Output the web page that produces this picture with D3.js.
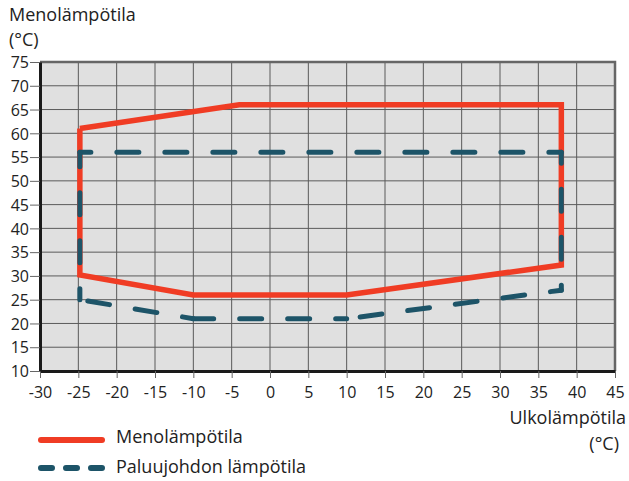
<!DOCTYPE html>
<html><head><meta charset="utf-8">
<script src="https://cdn.jsdelivr.net/npm/d3@7"></script>
<style>body{margin:0;background:#fff}svg{display:block;font-family:"Open Sans",sans-serif}</style>
</head><body>
<script>
const xTicks = [-30,-25,-20,-15,-10,-5,0,5,10,15,20,25,30,35,40,45];
const yTicks = [10,15,20,25,30,35,40,45,50,55,60,65,70,75];
const supplyX = [-24.8, -4, 38, 38, 10, -10, -24.8, -24.8];
const supplyY = [61, 66, 66, 32.3, 26, 26, 30.2, 61];
const returnX = [-24.8, 38, 38, 10, -10, -24.8, -24.8];
const returnY = [56, 56, 27, 21, 21, 25, 56];
const yTitle = ["Menolämpötila", "(°C)"];
const xTitle = ["Ulkolämpötila", "(°C)"];
const legendLabels = ["Menolämpötila", "Paluujohdon lämpötila"];

const W = 629, H = 481;
const svg = d3.select("body").append("svg").attr("width", W).attr("height", H);
const x = d3.scaleLinear().domain([-30, 45]).range([40, 615]);
const y = d3.scaleLinear().domain([10, 75]).range([371, 62]);
const red = "#f03c24", blue = "#1d5468";

svg.append("rect").attr("x", x(-30)).attr("y", y(75)).attr("width", x(45)-x(-30)).attr("height", y(10)-y(75)).attr("fill", "#e0e0e0");
// grid
svg.append("g").selectAll("line").data(xTicks.filter(d => d > -30 && d < 45)).join("line")
  .attr("x1", d => x(d)).attr("x2", d => x(d)).attr("y1", y(10)).attr("y2", y(75))
  .attr("stroke", "#5a5a5a").attr("stroke-width", 1);
svg.append("g").selectAll("line").data(yTicks.filter(d => d > 10 && d < 75)).join("line")
  .attr("y1", d => y(d)).attr("y2", d => y(d)).attr("x1", x(-30)).attr("x2", x(45))
  .attr("stroke", "#5a5a5a").attr("stroke-width", 1);
// top / right border
svg.append("path").attr("d", `M${x(-30)},${y(75)}H${x(45)}V${y(10)}`).attr("fill", "none").attr("stroke", "#666").attr("stroke-width", 2.5);

// axes
const fmt = d => String(d);
const xAxis = svg.append("g").attr("transform", `translate(0,${y(10)})`)
  .call(d3.axisBottom(x).tickValues(xTicks).tickFormat(fmt).tickSize(7).tickSizeOuter(0).tickPadding(6));
const yAxis = svg.append("g").attr("transform", `translate(${x(-30)},0)`)
  .call(d3.axisLeft(y).tickValues(yTicks).tickFormat(fmt).tickSize(10).tickSizeOuter(0).tickPadding(1));
[xAxis, yAxis].forEach(g => {
  g.select(".domain").attr("stroke", "#1a1a1a").attr("stroke-width", 3);
  g.selectAll(".tick line").attr("stroke", "#666").attr("stroke-width", 1);
  g.selectAll(".tick text").attr("font-size", 16).attr("fill", "#222").attr("font-family", "Open Sans");
});
yAxis.selectAll(".tick text").attr("dy", "0.36em");
xAxis.selectAll(".tick text").attr("dy", "0.9em");

// supply line
const supply = supplyX.map((v, i) => [v, supplyY[i]]);
svg.append("path").attr("d", d3.line().x(d => x(d[0])).y(d => y(d[1]))(supply))
  .attr("fill", "none").attr("stroke", red).attr("stroke-width", 5.5).attr("stroke-linejoin", "miter");

// return line, each segment starts with half dash
const ret = returnX.map((v, i) => [v, returnY[i]]);
for (let i = 0; i < ret.length - 1; i++) {
  svg.append("line")
    .attr("x1", x(ret[i][0])).attr("y1", y(ret[i][1]))
    .attr("x2", x(ret[i+1][0])).attr("y2", y(ret[i+1][1]))
    .attr("stroke", blue).attr("stroke-width", 5).attr("stroke-linecap", "round")
    .attr("stroke-dasharray", "22,26").attr("stroke-dashoffset", 11);
}

// titles
const tg = svg.append("g").attr("font-size", 18).attr("fill", "#222");
tg.append("text").attr("x", 9).attr("y", 21).text(yTitle[0]);
tg.append("text").attr("x", 9).attr("y", 46).text(yTitle[1]);
tg.append("text").attr("x", 626).attr("y", 424).attr("text-anchor", "end").text(xTitle[0]);
tg.append("text").attr("x", 619).attr("y", 450).attr("text-anchor", "end").text(xTitle[1]);

// legend
svg.append("line").attr("x1", 41).attr("x2", 102).attr("y1", 440).attr("y2", 440)
  .attr("stroke", red).attr("stroke-width", 6).attr("stroke-linecap", "round");
svg.append("line").attr("x1", 41).attr("x2", 102).attr("y1", 468).attr("y2", 468)
  .attr("stroke", blue).attr("stroke-width", 6).attr("stroke-linecap", "round").attr("stroke-dasharray", "11,14");
tg.append("text").attr("x", 116).attr("y", 443).text(legendLabels[0]);
tg.append("text").attr("x", 116).attr("y", 473).text(legendLabels[1]);
</script>
</body></html>
